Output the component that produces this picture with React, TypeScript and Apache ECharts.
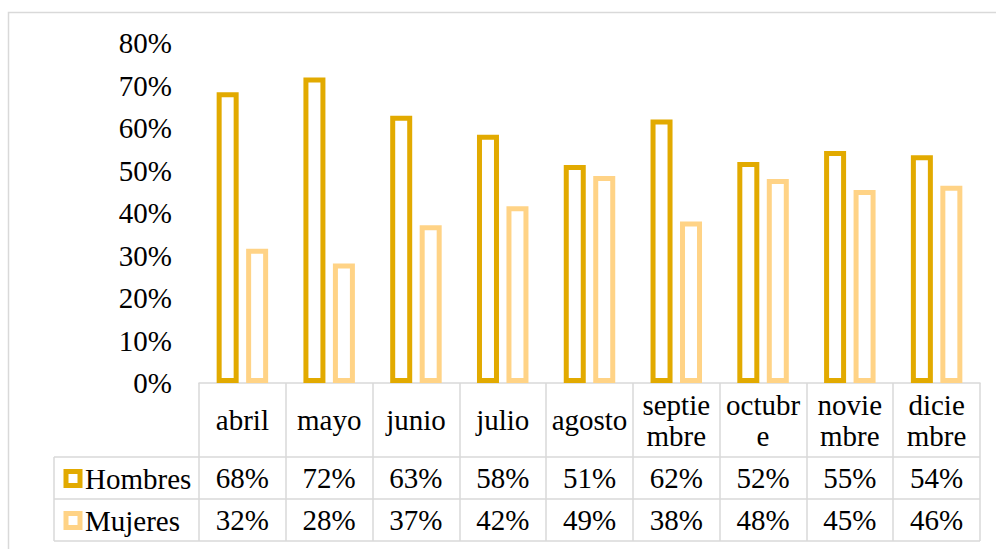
import React, { useEffect, useRef } from "react";
import * as echarts from "echarts";

const months = ["abril", "mayo", "junio", "julio", "agosto", "septiembre", "octubre", "noviembre", "diciembre"];
const monthLabels = ["abril", "mayo", "junio", "julio", "agosto", "septie\nmbre", "octubr\ne", "novie\nmbre", "dicie\nmbre"];
const hombres = [68.4, 71.9, 62.9, 58.4, 51.3, 62.0, 52.0, 54.6, 53.6];
const mujeres = [31.6, 28.1, 37.1, 41.6, 48.7, 38.0, 48.0, 45.4, 46.4];
const yTicks = [0, 10, 20, 30, 40, 50, 60, 70, 80];

const FONT = "'Liberation Serif', 'Times New Roman', serif";
const FS = 29;
const GOLD = "#E2AA00";
const LIGHT = "#FFD386";
const LINE = "#D9D9D9";

const W = 996;
const H = 549;
const PLOT_L = 199;
const PLOT_R = 980;
const PLOT_T = 43;
const PLOT_B = 383;
const ROW1_B = 457;
const ROW2_B = 499;
const ROW3_B = 541;
const LEG_L = 54;

export default function App() {
  const ref = useRef<HTMLDivElement>(null);
  useEffect(() => {
    if (!ref.current) return;
    const chart = echarts.init(ref.current, null, { renderer: "svg" });
    const textBase = { fontFamily: FONT, fontSize: FS, color: "#000" };
    const hLine = (y: number) => ({
      type: "line",
      shape: { x1: LEG_L, y1: y, x2: PLOT_R, y2: y },
      style: { stroke: LINE, lineWidth: 1.5 },
      silent: true,
    });
    chart.setOption({
      animation: false,
      backgroundColor: "#fff",
      grid: { left: PLOT_L, right: W - PLOT_R, top: PLOT_T, bottom: H - PLOT_B, containLabel: false },
      legend: [
        {
          data: ["Hombres"],
          left: LEG_L + 9.5,
          top: (ROW1_B + ROW2_B) / 2 - 14,
          padding: 0,
          icon: "rect",
          itemWidth: 14,
          itemHeight: 14,
          itemStyle: { color: "#fff", borderColor: GOLD, borderWidth: 5 },
          textStyle: { ...textBase, lineHeight: 28 },
        },
        {
          data: ["Mujeres"],
          left: LEG_L + 9.5,
          top: (ROW2_B + ROW3_B) / 2 - 14,
          padding: 0,
          icon: "rect",
          itemWidth: 14,
          itemHeight: 14,
          itemStyle: { color: "#fff", borderColor: LIGHT, borderWidth: 5 },
          textStyle: { ...textBase, lineHeight: 28 },
        },
      ],
      xAxis: [
        {
          type: "category",
          data: months,
          position: "bottom",
          axisLine: { show: true, lineStyle: { color: LINE, width: 1.5 } },
          axisTick: { show: true, interval: 0, length: ROW3_B - PLOT_B, lineStyle: { color: LINE, width: 1.5 } },
          axisLabel: {
            interval: 0,
            ...textBase,
            lineHeight: 31,
            verticalAlign: "middle",
            margin: (PLOT_B + ROW1_B) / 2 - PLOT_B,
            formatter: (_v: string, i: number) => monthLabels[i],
          },
          splitLine: { show: false },
        },
        {
          type: "category",
          data: months,
          position: "bottom",
          axisLine: { show: false },
          axisTick: { show: false },
          axisLabel: {
            interval: 0,
            ...textBase,
            verticalAlign: "middle",
            margin: (ROW1_B + ROW2_B) / 2 - PLOT_B,
            formatter: (_v: string, i: number) => Math.round(hombres[i]) + "%",
          },
        },
        {
          type: "category",
          data: months,
          position: "bottom",
          axisLine: { show: false },
          axisTick: { show: false },
          axisLabel: {
            interval: 0,
            ...textBase,
            verticalAlign: "middle",
            margin: (ROW2_B + ROW3_B) / 2 - PLOT_B,
            formatter: (_v: string, i: number) => Math.round(mujeres[i]) + "%",
          },
        },
      ],
      yAxis: {
        type: "value",
        min: yTicks[0],
        max: yTicks[yTicks.length - 1],
        interval: 10,
        axisLine: { show: false },
        axisTick: { show: false },
        splitLine: { show: false },
        axisLabel: { ...textBase, margin: 27, formatter: "{value}%" },
      },
      series: [
        {
          name: "Hombres",
          type: "bar",
          xAxisIndex: 0,
          data: hombres,
          barWidth: 22,
          barGap: "34%",
          itemStyle: { color: "#fff", borderColor: GOLD, borderWidth: 5 },
        },
        {
          name: "Mujeres",
          type: "bar",
          xAxisIndex: 0,
          data: mujeres,
          barWidth: 22,
          barGap: "34%",
          itemStyle: { color: "#fff", borderColor: LIGHT, borderWidth: 5 },
        },
      ],
      graphic: [
        {
          type: "rect",
          shape: { x: 8.5, y: 12.5, width: 1200, height: 800 },
          style: { fill: "none", stroke: LINE, lineWidth: 1.5 },
          silent: true,
          z: -1,
        },
        hLine(ROW1_B),
        hLine(ROW2_B),
        hLine(ROW3_B),
        {
          type: "line",
          shape: { x1: LEG_L, y1: ROW1_B, x2: LEG_L, y2: ROW3_B },
          style: { stroke: LINE, lineWidth: 1.5 },
          silent: true,
        },
      ],
    });
    return () => chart.dispose();
  }, []);
  return <div ref={ref} style={{ position: "fixed", left: 0, top: 0, width: W, height: H }} />;
}
